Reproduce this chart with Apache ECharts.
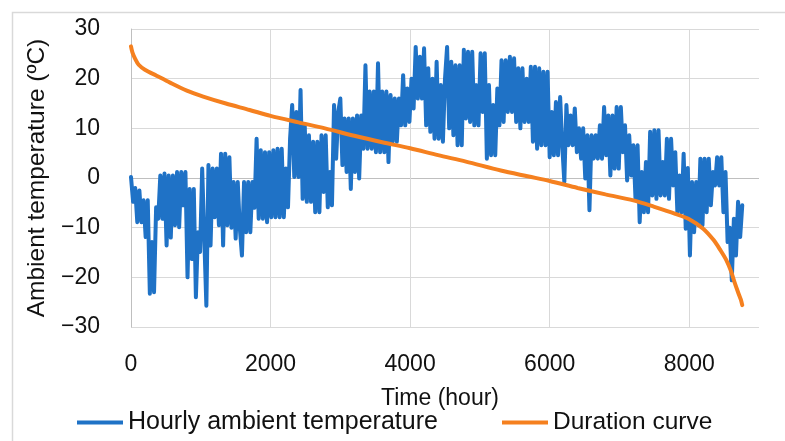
<!DOCTYPE html>
<html>
<head>
<meta charset="utf-8">
<script src="https://cdn.jsdelivr.net/npm/echarts@6/dist/echarts.min.js"></script>
<style>
  html, body { margin: 0; padding: 0; background: #ffffff; }
  #chart { width: 785px; height: 441px; }
</style>
</head>
<body>
<div id="chart"></div>
<script>
// Hourly ambient temperature, one reading kept every HOUR_STEP hours (°C)
const HOUR_STEP = 30;
const hourlyTemps = [
  0.2, -4.8, -2, -8.9, -2.5, -8.9, -4.5, -11.9, -4.5, -23.3,
  -12.9, -23, -5.9, -8.2, 0.5, -8.2, 0.9, -13.6, 0.5, -12,
  0.5, -9.5, 1.2, -9.9, 1.2, -5.5, 1.2, -20, -2.2, -16.3,
  -2.2, -24, -10.9, -14.9, 1.9, -12, -25.7, 2.6, -13.6, 1.9,
  -7.9, 1.9, -9.5, 4.9, -13.6, 4.9, -9.5, 4.2, -10, -0.8,
  -12.2, -0.8, -10.2, -15.6, -0.8, -10.9, -0.8, -10.9, -0.8, -6,
  7.9, -8.2, 5.6, -8.2, 5.2, -8.9, 5.2, -7.9, 5.6, -7.9,
  5.9, -7.9, 5.9, -7.9, 1.9, -5.9, 8, 14.7, 0.2, 13.3,
  0.2, 17.7, -4.2, 10.6, -4.8, 8.6, -4.8, 7.3, -6.9, 7.3,
  -6.9, 8.6, -2.8, 8.6, -5.9, 1.2, -5.5, 14.7, 3.9, 13.3,
  16, 2.6, 12, 1.2, 12, -2.2, 12, 1.2, 12.6, -0.1,
  12.6, 5.9, 22.7, 5.9, 17.4, 5.9, 17.4, 5.2, 23.1, 5.2,
  17.4, 5.2, 17.4, 3.2, 16.7, 7.3, 16, 7.3, 16, 10.6,
  20.7, 10.6, 18, 11.3, 20, 14, 26.4, 16, 24.4, 16,
  26.1, 10.6, 22.1, 9.3, 20, 7.9, 23.4, 7.9, 18.7, 7.3,
  20, 26.4, 10, 23.4, 8.6, 22.7, 6.6, 22.7, 6.6, 25.8,
  12, 25.4, 11.3, 25.4, 10.6, 18.7, 10.6, 25.1, 13.3, 25.1,
  3.9, 18.7, 4.6, 14.7, 4.6, 18, 10.6, 23.7, 11.3, 23.7,
  13.3, 24.4, 13.3, 24.1, 11.3, 22.1, 10, 22.1, 11.3, 20,
  11.3, 22.4, 7.3, 22.4, 5.9, 22.1, 6.6, 21.4, 6.6, 21.4,
  4.2, 13.3, 4.6, 15.3, 4.6, 16.3, 6.6, -0.8, 14.7, 6.6,
  12.6, 6.6, 14, 5.2, 10, 3.9, 10, -0.1, 8.6, -6.5,
  8.6, 3.9, 8.6, 3.9, 10.6, 3.9, 14.3, 4.6, 12.6, 0.5,
  12.6, 1.9, 14.3, 1.9, 14.3, 5.2, 10.6, -0.5, 8.6, 0.5,
  6.6, -4.2, 6.6, -8.9, 1.2, -6.9, 3.2, -6.9, 9.3, -3.5,
  9.6, -4.2, 9.6, -3.5, 3.2, -3.5, 7.9, -4.2, 7.9, -1.5,
  5.2, -6.9, 0.5, -6.9, 4.9, -10.2, 2, -15.6, -0.8, -10.9,
  -0.8, -9.5, 3.9, -9.5, 3.9, -6.9, 3.9, -5.5, 1.2, -1.5,
  4.2, -1.5, 4.2, -6.9, 1.2, -12.9, -10, -20.6, -8.2, -15.6,
  -4.8, -11.9, -5.5
];

// Duration curve: temperatures ranked from warmest to coldest
const durationHours = [
  0, 20, 60, 110, 200, 366, 560, 800, 1035, 1360,
  1700, 2000, 2400, 2780, 3200, 3600, 4000, 4400, 4800, 5300,
  5700, 6000, 6400, 6800, 7200, 7500, 7800, 8000, 8200, 8350,
  8450, 8530, 8600, 8650, 8700, 8740, 8760
];
const durationTemps = [
  26.5, 25.3, 24.0, 22.8, 21.8, 20.6, 19.2, 17.6, 16.4, 15.0,
  13.7, 12.5, 11.2, 10.0, 8.5, 7.2, 6.0, 4.6, 3.3, 1.5,
  0.3, -0.6, -2.0, -3.3, -4.5, -5.8, -7.2, -8.3, -10.2, -12.5,
  -14.6, -16.5, -18.8, -21.0, -23.0, -24.5, -25.6
];

const seriesNames = ['Hourly ambient temperature', 'Duration curve'];
const xAxisTitle = 'Time (hour)';
const yAxisTitle = 'Ambient temperature (ºC)';

const FONT = '"Liberation Sans", Arial, sans-serif';
const TEXT_COLOR = '#111111';
const BLUE = '#1f72c6';
const ORANGE = '#f5801f';

const hourlyData = hourlyTemps.map((t, i) => [i * HOUR_STEP, t]);
const durationData = durationHours.map((h, i) => [h, durationTemps[i]]);

const chart = echarts.init(document.getElementById('chart'), null, { renderer: 'canvas' });

const legendBase = {
  orient: 'horizontal',
  top: 410,
  padding: 0,
  icon: 'rect',
  itemWidth: 46,
  itemHeight: 4,
  itemGap: 0,
  textStyle: { fontFamily: FONT, fontSize: 25, color: TEXT_COLOR }
};

chart.setOption({
  animation: false,
  backgroundColor: '#ffffff',
  textStyle: { fontFamily: FONT },
  graphic: [{
    type: 'rect',
    silent: true,
    shape: { x: 12.5, y: 12.5, width: 800, height: 500 },
    style: { fill: 'transparent', stroke: '#d9d9d9', lineWidth: 1.5 }
  }],
  grid: { left: 131, top: 29, width: 628, height: 298, containLabel: false },
  legend: [
    Object.assign({}, legendBase, { left: 77, data: [seriesNames[0]] }),
    Object.assign({}, legendBase, { left: 502, data: [seriesNames[1]], textStyle: Object.assign({}, legendBase.textStyle, { fontSize: 24.5 }) })
  ],
  xAxis: {
    type: 'value',
    min: 0,
    max: 9000,
    interval: 2000,
    name: xAxisTitle,
    nameLocation: 'middle',
    nameGap: 60,
    nameTextStyle: { fontFamily: FONT, fontSize: 23, color: TEXT_COLOR, padding: [0, 10, 0, 0] },
    axisLine: { show: false },
    axisTick: { show: false },
    axisLabel: {
      margin: 26,
      fontFamily: FONT,
      fontSize: 23,
      color: TEXT_COLOR,
      showMaxLabel: false,
      formatter: v => String(v)
    },
    splitLine: {
      show: true,
      showMaxLine: false,
      lineStyle: { color: '#d9d9d9', width: 1 }
    }
  },
  yAxis: {
    type: 'value',
    min: -30,
    max: 30,
    interval: 10,
    name: yAxisTitle,
    nameLocation: 'middle',
    nameGap: 75,
    nameTextStyle: { fontFamily: FONT, fontSize: 24.5, color: TEXT_COLOR },
    axisLine: { show: true, lineStyle: { color: '#bfbfbf', width: 1 } },
    axisTick: { show: false },
    axisLabel: {
      margin: 31,
      fontFamily: FONT,
      fontSize: 23,
      color: TEXT_COLOR,
      formatter: v => (v < 0 ? '\u2212' + Math.abs(v) : String(v))
    },
    splitLine: {
      show: true,
      lineStyle: {
        color: ['#d9d9d9', '#d9d9d9', '#d9d9d9', '#bfbfbf', '#d9d9d9', '#d9d9d9', '#d9d9d9'],
        width: 1
      }
    }
  },
  series: [
    {
      name: seriesNames[0],
      type: 'line',
      data: hourlyData,
      showSymbol: false,
      symbol: 'none',
      color: BLUE,
      lineStyle: { color: BLUE, width: 4, join: 'round', cap: 'round' },
      z: 2
    },
    {
      name: seriesNames[1],
      type: 'line',
      data: durationData,
      showSymbol: false,
      symbol: 'none',
      smooth: 0.3,
      color: ORANGE,
      lineStyle: { color: ORANGE, width: 4, cap: 'round' },
      z: 3
    }
  ]
});
</script>
</body>
</html>
